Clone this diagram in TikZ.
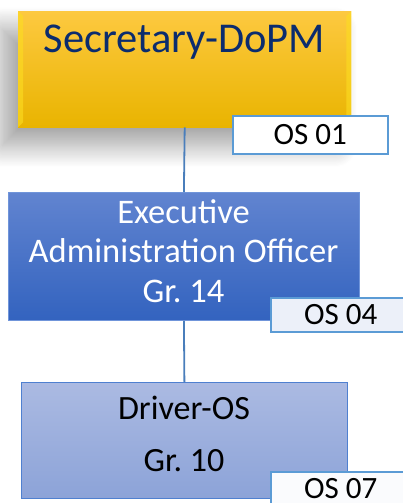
\documentclass[tikz,border=0pt]{standalone}
\usepackage{fontspec}
\setmainfont{Carlito}
\usetikzlibrary{shadows.blur}
\frenchspacing
\definecolor{ytop}{HTML}{FDC940}
\definecolor{ybot}{HTML}{E9B400}
\definecolor{navy}{HTML}{0B2C6E}
\definecolor{btop}{HTML}{6184D0}
\definecolor{bbot}{HTML}{3363BF}
\definecolor{bedge}{HTML}{7095DA}
\definecolor{ltop}{HTML}{ABBAE2}
\definecolor{lbot}{HTML}{8CA3D8}
\definecolor{ledge}{HTML}{4F80D0}
\definecolor{osedge}{HTML}{5B9BD5}
\definecolor{conn}{HTML}{4A7EBB}
\tikzset{
  x=1pt, y=-1pt,
  box/.style={rectangle, inner sep=0pt, anchor=north west},
  osbox/.style={rectangle, draw=osedge, line width=1.6pt, inner sep=0pt, anchor=north west, font=\fontsize{31}{34}\selectfont, text=black},
  conline/.style={draw=conn, line width=1.8pt},
}
\begin{document}
\begin{tikzpicture}
\frenchspacing
\useasboundingbox (0,0) rectangle (402,503);
% top box
\node[box, minimum width=333pt, minimum height=116pt, top color=ytop, bottom color=ybot,
      blur shadow={shadow xshift=-16pt, shadow yshift=-18pt, shadow blur radius=22pt, shadow blur steps=20, shadow opacity=38}] (sec) at (18,11) {};
\fill[yellow!50!ytop, opacity=0.6] (sec.north west) -- ++(5,5) -- ([shift={(5,-5)}]sec.south west) -- (sec.south west) -- cycle;
\fill[yellow!50!ytop, opacity=0.6] (sec.north east) -- ++(-5,5) -- ([shift={(-5,-5)}]sec.south east) -- (sec.south east) -- cycle;
\node[font=\fontsize{42.5}{46}\selectfont, text=navy] (sect) at (184.5,42) {Secretary-DoPM};
% exec box
\node[box, draw=bedge, line width=0.8pt, minimum width=351pt, minimum height=128pt, top color=btop, bottom color=bbot] (exe) at (8,192) {};
\node[align=center, text=white, font=\fontsize{34.5}{39.5}\selectfont] (exet) at (183.5,251) {Executive\\Administration Officer\\Gr.\ 14};
% driver box
\node[box, draw=ledge, line width=0.8pt, minimum width=326pt, minimum height=116pt, top color=ltop, bottom color=lbot] (drv) at (21,382) {};
\node[align=center, text=black, font=\fontsize{34}{52}\selectfont] (drvt) at (184,434) {Driver-OS\\Gr.\ 10};
% connectors
\draw[conline] (sec.south) -- (exe.north);
\draw[conline] (exe.south) -- (drv.north);
% OS boxes
\node[osbox, fill=white, minimum width=155pt, minimum height=38pt] (os1) at (232,115) {OS 01};
\node[osbox, fill=white!88!btop, minimum width=140pt, minimum height=34pt] (os4) at (270,297) {\raisebox{-3pt}{OS 04}};
\node[osbox, fill=white!94!ltop, minimum width=140pt, minimum height=40pt] (os7) at (270,471) {\raisebox{6pt}{OS 07}};
\end{tikzpicture}
\end{document}
